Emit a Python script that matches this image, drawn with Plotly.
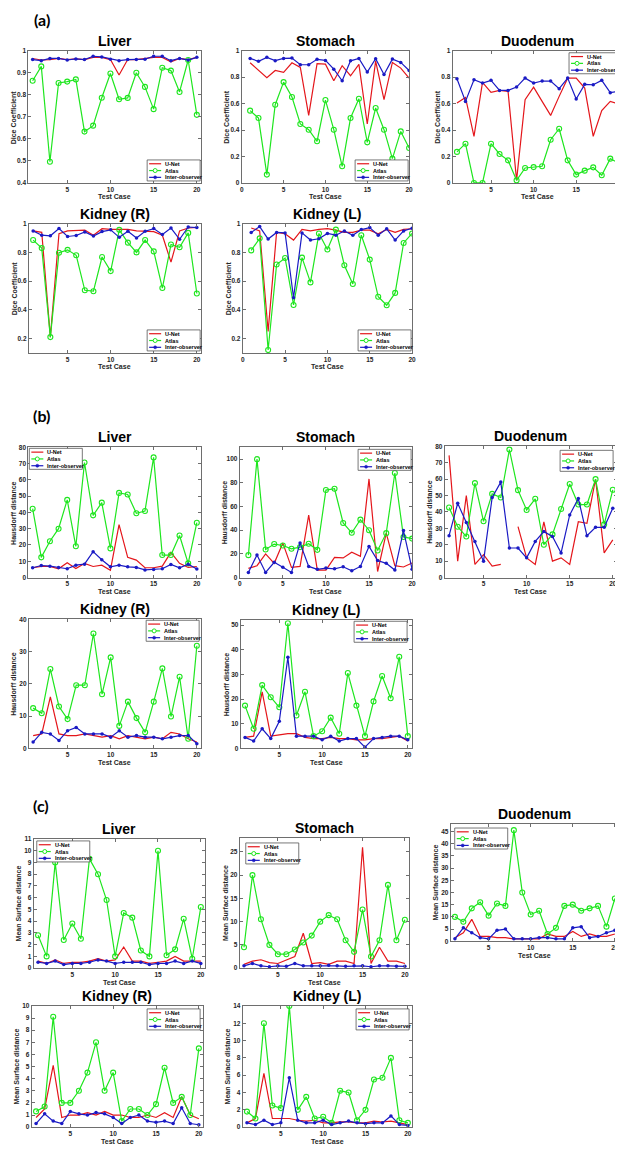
import plotly.graph_objects as go

W, H = 623, 1150
cases = list(range(1, 21))

# ---------------- (a) Dice coefficient ----------------
liver_dice_unet = [0.965,0.958,0.96,0.965,0.96,0.963,0.96,0.97,0.97,0.96,0.89,0.96,0.96,0.965,0.97,0.97,0.95,0.965,0.96,0.97]
liver_dice_atlas = [0.864,0.929,0.496,0.854,0.86,0.87,0.633,0.66,0.787,0.897,0.78,0.786,0.9,0.836,0.735,0.923,0.91,0.813,0.958,0.709]
liver_dice_inter = [0.96,0.955,0.965,0.965,0.958,0.963,0.96,0.975,0.972,0.962,0.955,0.96,0.96,0.962,0.975,0.975,0.955,0.965,0.958,0.97]

stomach_dice_unet = [0.909,0.85,0.796,0.851,0.836,0.909,0.874,0.511,0.902,0.899,0.773,0.887,0.811,0.897,0.446,0.922,0.63,0.912,0.869,0.793]
stomach_dice_atlas = [0.547,0.491,0.063,0.592,0.763,0.65,0.446,0.403,0.315,0.627,0.403,0.126,0.491,0.637,0.307,0.567,0.403,0.184,0.39,0.264]
stomach_dice_inter = [0.942,0.92,0.95,0.925,0.942,0.945,0.894,0.894,0.935,0.927,0.861,0.773,0.924,0.942,0.839,0.94,0.821,0.937,0.912,0.851]

duodenum_dice_unet = [0.605,0.647,0.353,0.761,0.685,0.7,0.693,0.02,0.63,0.725,0.617,0.511,0.655,0.793,0.793,0.718,0.353,0.547,0.617,0.597]
duodenum_dice_atlas = [0.235,0.297,0.0,0.0,0.297,0.219,0.171,0.02,0.113,0.12,0.126,0.327,0.41,0.171,0.063,0.093,0.118,0.058,0.184,0.151]
duodenum_dice_inter = [0.788,0.617,0.781,0.756,0.776,0.7,0.7,0.725,0.793,0.756,0.771,0.771,0.713,0.793,0.635,0.746,0.743,0.776,0.683,0.693]

kidneyr_dice_unet = [0.95,0.94,0.21,0.93,0.95,0.955,0.955,0.92,0.965,0.96,0.962,0.96,0.95,0.945,0.945,0.92,0.732,0.95,0.97,0.975]
kidneyr_dice_atlas = [0.886,0.83,0.21,0.798,0.818,0.78,0.536,0.53,0.768,0.67,0.957,0.868,0.8,0.886,0.807,0.552,0.855,0.836,0.936,0.514]
kidneyr_dice_inter = [0.95,0.92,0.916,0.966,0.911,0.918,0.943,0.914,0.945,0.957,0.905,0.948,0.9,0.948,0.966,0.925,0.97,0.891,0.977,0.973]

kidneyl_dice_unet = [0.97,0.95,0.25,0.94,0.93,0.886,0.96,0.95,0.96,0.965,0.955,0.94,0.94,0.955,0.955,0.93,0.96,0.94,0.96,0.965]
kidneyl_dice_atlas = [0.814,0.898,0.12,0.716,0.761,0.434,0.764,0.591,0.932,0.82,0.959,0.711,0.58,0.92,0.75,0.491,0.432,0.518,0.866,0.932]
kidneyl_dice_inter = [0.939,0.98,0.893,0.939,0.936,0.484,0.936,0.886,0.895,0.932,0.92,0.95,0.92,0.959,0.973,0.92,0.964,0.886,0.95,0.968]

# ---------------- (b) Hausdorff distance ----------------
liver_hd_unet = [6,6.8,6.8,5.4,9.1,5.6,8.7,6.8,7.6,4.5,32.5,12.4,10.7,6,6,7,15.5,8.7,6.2,6.8]
liver_hd_atlas = [42.3,12.4,22.3,30,47.7,19.2,70.7,38.2,46,17.9,52,51,39.5,40.9,73.8,13.8,13.8,25.8,8.7,33.7]
liver_hd_inter = [6,7.4,7,6.2,5.4,7.6,8.2,15.9,10.9,6.6,7.6,6.6,6.2,4.7,4.9,5.4,8,6,8.2,5.2]

stomach_hd_unet = [7.7,10,20,12,29.1,8.6,9.4,52.8,6.3,6.3,17.1,16.6,21.4,18,83.3,5.1,37.5,10,8.9,12.3]
stomach_hd_atlas = [18.9,100,23.7,28.3,27.1,24.3,25.7,28.6,23.4,73.9,75,46.1,37.8,48.9,40,22.9,37.5,88.3,34.3,32.9]
stomach_hd_inter = [4.3,19.1,4.3,12.9,8.6,4.3,29.1,9.4,6.9,8,7.4,9.1,5.7,9.4,26.3,14.3,12,6.3,39.7,7.1]

duodenum_hd_unet = [74.5,10,50,8,14,7,8,None,31,12,8,34,10,12,8,34,33,60,15,23]
duodenum_hd_atlas = [42.7,31,25,57.6,34.3,51,48.8,78,53.3,41.2,48,20,26.3,41.8,57,44.5,44.5,60,32.4,53.5]
duodenum_hd_inter = [25.5,45.3,33.5,22,10,48.8,58.2,18,18,12,22,28,25,15,38.2,48.2,25.5,30.6,30.6,42.2]

kidneyr_hd_unet = [4,4.5,16,4.5,4,4,4.5,4,3.5,4,3,4,3.5,3,3.5,3,5,4.5,3,2]
kidneyr_hd_atlas = [12.5,10.9,24.6,13,9.1,19.6,19.6,35.6,16.8,28.2,7,14.5,9.4,5,14.5,24.8,9.9,22.2,3,31.8]
kidneyr_hd_inter = [2,5,4.5,2.5,5.5,6.5,4.5,4.5,4.5,3.5,5.5,3.5,4,3.5,3.5,3,3.5,4,4,1.5]

kidneyl_hd_unet = [4.5,5,23,5,5.5,6,6,4.5,4,4,4.5,4,4,3.5,3.5,4,4,4.5,5,3]
kidneyl_hd_atlas = [17.4,8,25.7,20.8,16.7,50.8,13.4,23,5,7,12.5,6,30.6,17.4,5,19.1,29.4,20.4,37.2,5]
kidneyl_hd_inter = [4.5,3,8,4,11,37,5,5,5,3.5,5,3,4,4,0.5,4,4.5,5,5,3.5]

# ---------------- (c) Mean surface distance ----------------
liver_msd_unet = [0.6,0.4,0.7,0.4,0.5,0.5,0.6,0.8,0.6,0.7,1.8,0.6,0.6,0.4,0.5,0.6,1.0,0.6,0.6,0.6]
liver_msd_atlas = [2.8,1.0,9.0,2.4,3.8,2.5,9.3,8.0,5.8,1.0,4.7,4.3,1.5,1.0,10.0,1.1,1.6,4.2,0.8,5.2]
liver_msd_inter = [0.5,0.4,0.6,0.3,0.4,0.4,0.5,0.7,0.6,0.4,0.5,0.5,0.5,0.3,0.4,0.4,0.6,0.4,0.6,0.4]

stomach_msd_unet = [0.8,1.5,1.8,1.2,1.0,1.8,2.5,7.5,1.0,1.2,0.8,1.5,1.5,1.0,26.0,1.0,4.5,1.5,1.5,1.0]
stomach_msd_atlas = [4.5,20,10.5,5,3,3,4,5.5,7,10,11.4,10.5,6,3.5,12.6,2.5,6,17.9,6,10.4]
stomach_msd_inter = [0.5,1.0,0.5,0.3,0.5,0.4,1.0,0.5,0.5,0.5,0.6,0.5,0.4,0.5,0.5,0.3,0.5,0.5,0.4,0.4]

duodenum_msd_unet = [1.5,3.5,9,2,2,1.5,1.5,1,1,1,1,3,2,2,4,2,3,2,2,3]
duodenum_msd_atlas = [10,8,13.5,16,10.5,15.5,14.5,45.5,20,11,12.5,3,5.5,14.5,15,12.5,13.5,14.5,6,17.5]
duodenum_msd_inter = [1,5.5,3.5,1.5,1,4.5,5,1,1,1,1.5,1.5,1,1,5.5,6,1.5,2,3.5,4.5]

kidneyr_msd_unet = [0.8,1.5,5.1,0.8,1.0,1.0,1.2,1.0,1.3,1.0,1.0,0.8,0.8,1.0,0.8,1.2,0.8,2.5,1.0,0.7]
kidneyr_msd_atlas = [1.3,1.7,9.1,2.0,2.0,3.0,4.5,7.0,3.0,4.5,0.5,1.5,1.5,1.0,1.9,4.9,2.0,2.5,1.0,6.5]
kidneyr_msd_inter = [0.3,1.1,0.5,0.3,1.3,1.1,1.0,1.2,1.1,0.8,0.3,0.8,1.0,0.5,0.4,0.5,0.3,1.6,0.3,0.2]

kidneyl_msd_unet = [0.5,1.0,6.2,1.0,1.0,1.0,0.8,0.7,0.8,0.5,0.5,0.6,0.6,0.5,0.5,0.7,0.6,0.7,0.5,0.3]
kidneyl_msd_atlas = [1.8,1.0,12.0,2.5,2.2,14.0,2.0,3.5,1.0,1.2,0.5,4.2,4.0,0.8,2.0,5.5,5.7,8.0,0.8,0.5]
kidneyl_msd_inter = [0.5,0.3,0.8,0.3,0.5,5.7,0.8,0.5,0.5,0.8,0.3,0.5,0.7,0.5,0.4,0.5,0.5,1.3,0.3,0.2]

series_names = ["U-Net", "Atlas", "Inter-observer"]
section_labels = ["(a)", "(b)", "(c)"]
y_titles = ["Dice Coefficient", "Hausdorff distance", "Mean Surface distance"]
x_title = "Test Case"

# ---------------- panel layout (pixels) ----------------
panels = [
    dict(title="Liver", sec=0, data=(liver_dice_unet, liver_dice_atlas, liver_dice_inter),
         box=(18.5, 39, 193, 172), xr=[0.5, 20.5], yr=[0.4, 1], dt=0.1, leg=("br", 1, 2)),
    dict(title="Stomach", sec=0, data=(stomach_dice_unet, stomach_dice_atlas, stomach_dice_inter),
         box=(234, 39, 403, 172), xr=[0, 20], yr=[0, 1], dt=0.2, leg=("br", 1, 2)),
    dict(title="Duodenum", sec=0, data=(duodenum_dice_unet, duodenum_dice_atlas, duodenum_dice_inter),
         box=(447, 39, 619, 172), xr=[0.5, 20.5], yr=[0, 1], dt=0.2, leg=("tr", 1, 2)),
    dict(title="Kidney (R)", sec=0, data=(kidneyr_dice_unet, kidneyr_dice_atlas, kidneyr_dice_inter),
         box=(19, 213, 193, 343), xr=[0.5, 20.5], yr=[0.1, 1], dt=0.2, leg=("br", 1, 2)),
    dict(title="Kidney (L)", sec=0, data=(kidneyl_dice_unet, kidneyl_dice_atlas, kidneyl_dice_inter),
         box=(235, 213, 406, 343), xr=[0, 20], yr=[0.1, 1], dt=0.2, leg=("br", 1, 2)),

    dict(title="Liver", sec=1, data=(liver_hd_unet, liver_hd_atlas, liver_hd_inter),
         box=(18.5, 438, 193, 569), xr=[0.5, 20.5], yr=[0, 80], dt=10, leg=("tl", 1, 1)),
    dict(title="Stomach", sec=1, data=(stomach_hd_unet, stomach_hd_atlas, stomach_hd_inter),
         box=(232, 438, 406, 569), xr=[0, 20], yr=[0, 110], dt=20, leg=("tr", 1, 2)),
    dict(title="Duodenum", sec=1, data=(duodenum_hd_unet, duodenum_hd_atlas, duodenum_hd_inter),
         box=(439, 437, 613, 569), xr=[0.5, 20.5], yr=[0, 80], dt=10, leg=("tr", 4, 4)),
    dict(title="Kidney (R)", sec=1, data=(kidneyr_hd_unet, kidneyr_hd_atlas, kidneyr_hd_inter),
         box=(19, 611, 193, 741), xr=[0.5, 20.5], yr=[0, 40], dt=10, leg=("tr", 2, 1)),
    dict(title="Kidney (L)", sec=1, data=(kidneyl_hd_unet, kidneyl_hd_atlas, kidneyl_hd_inter),
         box=(233, 612, 406, 741), xr=[0.5, 20.5], yr=[0, 52], dt=10, leg=("tr", 5, 1)),

    dict(title="Liver", sec=2, data=(liver_msd_unet, liver_msd_atlas, liver_msd_inter),
         box=(24, 832, 197, 962), xr=[0.5, 20.5], yr=[0, 11], dt=1, leg=("tl", 3, 2)),
    dict(title="Stomach", sec=2, data=(stomach_msd_unet, stomach_msd_atlas, stomach_msd_inter),
         box=(232, 831, 403, 962), xr=[0.5, 20.5], yr=[0, 28], dt=5, leg=("tl", 6, 5)),
    dict(title="Duodenum", sec=2, data=(duodenum_msd_unet, duodenum_msd_atlas, duodenum_msd_inter),
         box=(445, 817, 615, 935), xr=[0.5, 20.5], yr=[0, 48], dt=5, leg=("tl", 4, 4)),
    dict(title="Kidney (R)", sec=2, data=(kidneyr_msd_unet, kidneyr_msd_atlas, kidneyr_msd_inter),
         box=(22, 1000, 195, 1122), xr=[0.5, 20.5], yr=[0, 10], dt=1, leg=("tr", 3, 3)),
    dict(title="Kidney (L)", sec=2, data=(kidneyl_msd_unet, kidneyl_msd_atlas, kidneyl_msd_inter),
         box=(235, 1000, 406, 1122), xr=[0.5, 20.5], yr=[0, 14], dt=2, leg=("tr", 3, 3)),
]
section_pos = [(32, 8), (32, 406), (31, 798)]

RED = "#e4161b"
GREEN = "#1ee61e"
BLUE = "#1a1ac4"
AXC = "#6e6e6e"
TXT = "#262626"
FONT = "Liberation Sans, Arial, sans-serif"

fig = go.Figure()
layout = dict(width=W, height=H, autosize=False, margin=dict(l=0, r=0, t=0, b=0),
              paper_bgcolor="white", plot_bgcolor="white", showlegend=False)
shapes, annotations = [], []

def px2x(p):
    return p / W

def py2y(p):
    return 1 - p / H

for i, p in enumerate(panels):
    n = i + 1
    sfx = "" if n == 1 else str(n)
    xa, ya = "x" + sfx, "y" + sfx
    l, t, r, b = p["box"]
    unet, atlas, inter = p["data"]
    fig.add_trace(go.Scatter(x=cases, y=unet, mode="lines", name=series_names[0],
                             line=dict(color=RED, width=1.2), connectgaps=False,
                             xaxis=xa, yaxis=ya))
    fig.add_trace(go.Scatter(x=cases, y=atlas, mode="lines+markers", name=series_names[1],
                             line=dict(color=GREEN, width=1.2),
                             marker=dict(symbol="circle-open", size=5, color=GREEN, line=dict(width=1.1)),
                             xaxis=xa, yaxis=ya))
    fig.add_trace(go.Scatter(x=cases, y=inter, mode="lines+markers", name=series_names[2],
                             line=dict(color=BLUE, width=1.2),
                             marker=dict(symbol="circle", size=3.5, color=BLUE),
                             xaxis=xa, yaxis=ya))
    common = dict(showline=True, mirror="ticks", linecolor=AXC, linewidth=1, ticks="inside",
                  ticklen=3, tickcolor=AXC, showgrid=False, zeroline=False,
                  tickfont=dict(family=FONT, size=6.5, color=TXT, weight="bold"), fixedrange=True)
    layout["xaxis" + sfx] = dict(domain=[px2x(l), px2x(r)], range=p["xr"], anchor=ya,
                                 tickmode="linear", tick0=0, dtick=5, **common)
    layout["yaxis" + sfx] = dict(domain=[py2y(b), py2y(t)], range=p["yr"], anchor=xa,
                                 tickmode="linear", tick0=0, dtick=p["dt"], **common)
    annotations.append(dict(text="<b>%s</b>" % p["title"], xref="paper", yref="paper",
                            x=px2x((l + r) / 2), y=py2y(t), xanchor="center", yanchor="bottom",
                            showarrow=False, font=dict(family=FONT, size=14, color="black")))
    annotations.append(dict(text="<b>%s</b>" % x_title, xref="paper", yref="paper",
                            x=px2x((l + r) / 2), y=py2y(b + 14), xanchor="center", yanchor="middle",
                            showarrow=False, font=dict(family=FONT, size=7, color=TXT)))
    annotations.append(dict(text="<b>%s</b>" % y_titles[p["sec"]], xref="paper", yref="paper",
                            x=px2x(l - 15), y=py2y((t + b) / 2), xanchor="center", yanchor="middle",
                            textangle=-90, showarrow=False, font=dict(family=FONT, size=7, color=TXT)))
    corner, dx, dy = p["leg"]
    lw, lh = 53, 21
    xdom, ydom = xa + " domain", ya + " domain"
    if corner[1] == "r":
        xanc, left = 1, -dx - lw
    else:
        xanc, left = 0, dx
    if corner[0] == "t":
        yanc, top = 1, -dy
    else:
        yanc, top = 0, dy + lh
    base = dict(xref=xdom, yref=ydom, xsizemode="pixel", ysizemode="pixel", xanchor=xanc, yanchor=yanc)
    shapes.append(dict(type="rect", x0=left, x1=left + lw, y0=top - lh, y1=top,
                       line=dict(color="#555555", width=0.8), fillcolor="white", **base))
    cols = [RED, GREEN, BLUE]
    for k in range(3):
        cy = top - 3.8 - 6.8 * k
        shapes.append(dict(type="line", x0=left + 2, x1=left + 14, y0=cy, y1=cy,
                           line=dict(color=cols[k], width=1.2), **base))
        if k == 1:
            shapes.append(dict(type="circle", x0=left + 6, x1=left + 10, y0=cy - 2, y1=cy + 2,
                               line=dict(color=GREEN, width=1), fillcolor="white", **base))
        if k == 2:
            shapes.append(dict(type="circle", x0=left + 6.5, x1=left + 9.5, y0=cy - 1.5, y1=cy + 1.5,
                               line=dict(color=BLUE, width=0.5), fillcolor=BLUE, **base))
        annotations.append(dict(text="<b>%s</b>" % series_names[k], xref=xdom, yref=ydom,
                                x=xanc, y=yanc, xshift=left + 16, yshift=cy,
                                xanchor="left", yanchor="middle", showarrow=False,
                                font=dict(family=FONT, size=5.5, color="black")))

for s, (sx, sy) in zip(section_labels, section_pos):
    annotations.append(dict(text="<b>%s</b>" % s, xref="paper", yref="paper",
                            x=px2x(sx), y=py2y(sy), xanchor="center", yanchor="middle",
                            showarrow=False, font=dict(family="Lato, Liberation Sans, sans-serif", size=16, color="black")))

layout["shapes"] = shapes
layout["annotations"] = annotations
fig.update_layout(**layout)
fig.write_html("out.html")
